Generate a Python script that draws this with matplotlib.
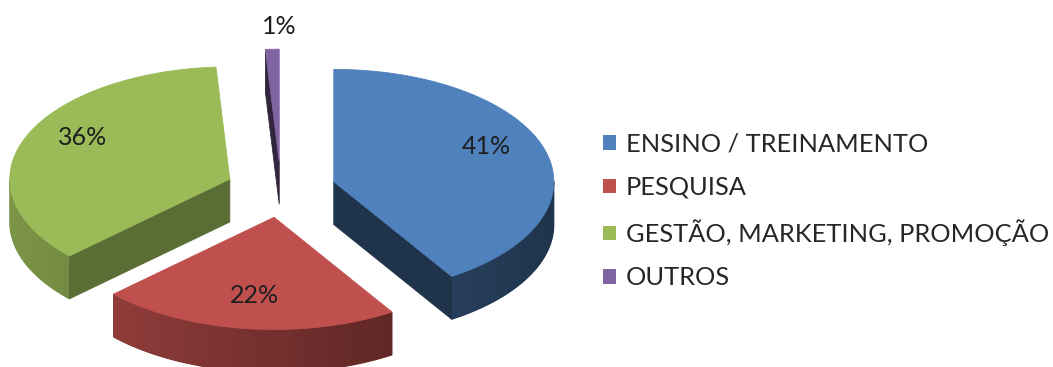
import numpy as np
import matplotlib.pyplot as plt
from matplotlib.patches import Polygon, Patch
from matplotlib.colors import to_rgb

labels = ['ENSINO / TREINAMENTO', 'PESQUISA', 'GESTÃO, MARKETING, PROMOÇÃO', 'OUTROS']
values = [41, 22, 36, 1]
colors = ['#4F81BD', '#C0504D', '#9BBB59', '#8064A2']

TILT = 0.51      # vertical squash of the pie ellipse
DEPTH = 0.195    # thickness of the slices
EXPLODE = 0.25   # how far each slice is pulled out

plt.rcParams['font.family'] = ['Lato', 'DejaVu Sans']


def shade(color, f):
    return tuple(np.clip(np.array(to_rgb(color)) * f, 0, 1))


def wall_shade(dx):
    # light comes from the left: the wall darkens towards the right side
    return 0.6 - 0.2 * np.clip(dx, -1, 1)


def point(theta, r, cx, cy):
    # theta in degrees, clockwise from 12 o'clock
    t = np.radians(theta)
    return cx + r * np.sin(t), cy + TILT * r * np.cos(t)


fig = plt.figure(figsize=(10.53, 3.67), dpi=100)
ax = fig.add_axes([0, 0, 1, 1])
ax.axis('off')

total = sum(values)
starts = np.cumsum([0] + values[:-1]) / total * 360
sweeps = np.array(values) / total * 360

slices = []
for i, (s, w) in enumerate(zip(starts, sweeps)):
    mid = s + w / 2
    cx, cy = point(mid, EXPLODE, 0, 0)
    slices.append((i, s, s + w, mid, cx, cy))

# paint the back slices first
slices.sort(key=lambda sl: np.cos(np.radians(sl[3])), reverse=True)

z = 1
for i, t0, t1, mid, cx, cy in slices:
    col = colors[i]

    # outer curved wall, only the front half is visible
    a0, a1 = max(t0, 90), min(t1, 270)
    if a1 > a0:
        angs = np.linspace(a0, a1, int(a1 - a0) + 2)
        top = np.array([point(a, 1, cx, cy) for a in angs])
        bottom = top - [0, DEPTH]
        outline = np.vstack([top, bottom[::-1]])
        base = shade(col, wall_shade(np.mean(top[:, 0]) - cx))
        ax.add_patch(Polygon(outline, closed=True, fc=base, ec=base, lw=0.8, zorder=z))
        clip = Polygon(outline, closed=True, fc='none', ec='none', transform=ax.transData)
        x0, x1 = outline[:, 0].min(), outline[:, 0].max()
        y0, y1 = outline[:, 1].min(), outline[:, 1].max()
        xs = np.linspace(x0, x1, 200)
        grad = np.array([shade(col, wall_shade(x - cx)) for x in xs])[None, :, :]
        im = ax.imshow(grad, extent=(x0, x1, y0, y1), aspect='auto',
                       interpolation='bilinear', zorder=z + 1)
        im.set_clip_path(clip)
    z += 2

    # flat radial faces that turn towards the viewer
    for theta, sign in ((t0, -1), (t1, 1)):
        t = np.radians(theta)
        if sign * np.sin(t) > 1e-6:
            c = shade(col, 0.5 + 0.12 * sign * np.cos(t))
            ox, oy = point(theta, 1, cx, cy)
            ax.add_patch(Polygon([(cx, cy), (ox, oy), (ox, oy - DEPTH), (cx, cy - DEPTH)],
                                 closed=True, fc=c, ec=c, lw=0.6, zorder=z))
    z += 1

    # top face
    arc = np.linspace(t0, t1, max(int(t1 - t0), 2) + 1)
    pts = [(cx, cy)] + [point(a, 1, cx, cy) for a in arc]
    ax.add_patch(Polygon(pts, closed=True, fc=col, ec=col, lw=0.6, zorder=z))
    z += 1

    # percentage label
    pct = values[i] / total * 100
    r = 0.72 if pct >= 5 else 1.2
    lx, ly = point(mid, r, cx, cy)
    if pct >= 5:
        ly += 0.06 * abs(np.sin(np.radians(mid)))
    else:
        lx += 0.04
    ax.text(lx, ly, f'{pct:.0f}%', ha='center', va='center',
            fontsize=18, color='#1e1e1e', zorder=100)

handles = [Patch(facecolor=c, edgecolor='none') for c in colors]
ax.legend(handles, labels, loc='center left', bbox_to_anchor=(0.5726, 0.425),
          frameon=False, fontsize=18.3, handlelength=0.52, handleheight=0.52,
          handletextpad=0.38, labelspacing=0.8, borderpad=0, borderaxespad=0,
          labelcolor='#262626')

ax.set_xlim(-1.277, 3.509)
ax.set_ylim(-0.807, 0.861)
fig.savefig('out.png', dpi=100)
